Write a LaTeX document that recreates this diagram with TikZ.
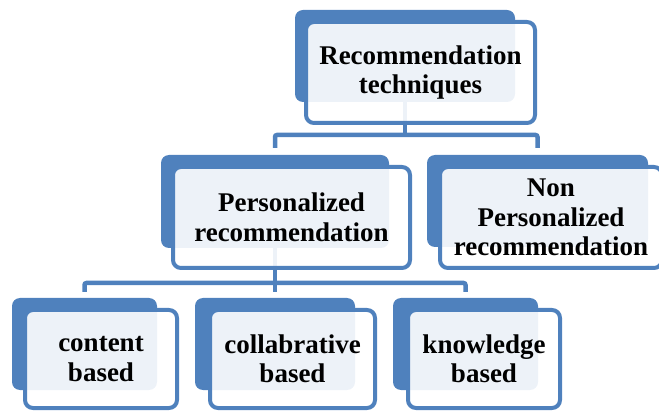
\documentclass[tikz,border=0pt]{standalone}
\usepackage{fontspec}
\setmainfont{Liberation Serif}
\usepackage{xcolor}
\usepackage{tikz}
\usetikzlibrary{calc}
\definecolor{boxblue}{HTML}{4F81BD}

\begin{document}
\begin{tikzpicture}[x=1pt,y=1pt,
  backbox/.style={rectangle,rounded corners=8pt,fill=boxblue,inner sep=0pt,outer sep=0pt},
  frontbox/.style={rectangle,rounded corners=8pt,draw=boxblue,line width=4pt,
    fill=white,fill opacity=0.9,text opacity=1,inner sep=0pt,outer sep=0pt,
    align=center,font=\fontsize{27}{29.5}\selectfont\bfseries},
  link/.style={draw=boxblue,line width=4.5pt,rounded corners=2pt}]
  \clip (0,0) rectangle (659,410);
  \node[backbox,minimum width=220pt,minimum height=92pt] (rec)  at (405,354) {};
  \node[backbox,minimum width=228pt,minimum height=93pt] (pers) at (275,208.5) {};
  \node[backbox,minimum width=221pt,minimum height=92pt] (non)  at (537.5,209) {};
  \node[backbox,minimum width=145pt,minimum height=92pt] (cont) at (84.5,66) {};
  \node[backbox,minimum width=160pt,minimum height=92pt] (coll) at (275,66) {};
  \node[backbox,minimum width=145pt,minimum height=92pt] (know) at (465.5,66) {};
  \coordinate (bus1) at (405,275);
  \coordinate (bus2) at (275,127);
  \draw[link] (rec.south) -- (bus1);
  \draw[link] ($(pers.north)+(0,7)$) |- (bus1) -| ($(non.north)+(0,7)$);
  \draw[link] (pers.south) -- (bus2);
  \draw[link] ($(cont.north)+(0,6)$) |- (bus2) -| ($(know.north)+(0,6)$);
  \draw[link] (bus2) -- ($(coll.north)+(0,6)$);
  \node[frontbox,minimum width=229pt,minimum height=101pt] (rec-f)  at (420.5,337.5) {Recommendation\\techniques};
  \node[frontbox,minimum width=237pt,minimum height=101pt] (pers-f) at (291.5,192.5) {Personalized\\recommendation};
  \node[frontbox,minimum width=222pt,minimum height=101pt] (non-f)  at (551,192.5) {Non\\Personalized\\recommendation};
  \node[frontbox,minimum width=152pt,minimum height=98pt] (cont-f) at (101,51) {content\\based};
  \node[frontbox,minimum width=165pt,minimum height=98pt] (coll-f) at (292.5,51) {collabrative\\based};
  \node[frontbox,minimum width=152pt,minimum height=98pt] (know-f) at (484,51) {knowledge\\based};
\end{tikzpicture}
\end{document}
